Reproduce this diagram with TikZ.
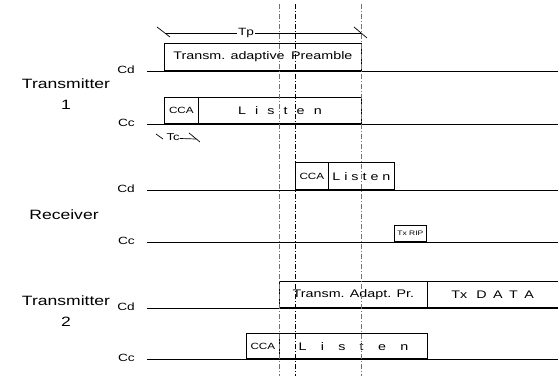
\documentclass[tikz,border=0pt]{standalone}
\usepackage{fontspec}
\setmainfont{Liberation Sans}
\newcommand\hs[1]{\scalebox{1.3}[1]{#1}}
\newcommand\gp[1]{\hspace{#1pt}}
\begin{document}
\begin{tikzpicture}[x=1pt,y=-1pt,
  box/.style={draw, line width=0.8pt, inner sep=0pt, anchor=south west, font=\fontsize{11}{12}\selectfont},
  small/.style={font=\fontsize{9}{10}\selectfont},
  tiny/.style={font=\fontsize{6.5}{7}\selectfont},
  base/.style={line width=0.9pt},
  dd/.style={line width=0.8pt, dash pattern=on 5pt off 2pt on 1pt off 2pt},
  ddg/.style={dd, draw=black!55},
  lbl/.style={font=\fontsize{10.5}{11}\selectfont, anchor=east, inner sep=0pt},
  big/.style={font=\fontsize{13.5}{21}\selectfont, align=center, inner sep=0pt},
  tick/.style={line width=0.7pt}]
\useasboundingbox (0,0) rectangle (558,379);
% baselines
\foreach \n/\y in {a/71,b/124,c/190,d/242,e/308,f/359}{
  \coordinate (\n L) at (147,\y);
  \coordinate (\n R) at (558,\y);
  \draw[base] (\n L) -- (\n R);
}
% channel labels
\node[lbl] (cd1) at (135,70) {\hs{Cd}};
\node[lbl] (cc1) at (135,123) {\hs{Cc}};
\node[lbl] (cd2) at (135,189) {\hs{Cd}};
\node[lbl] (cc2) at (135,241) {\hs{Cc}};
\node[lbl] (cd3) at (135,307) {\hs{Cd}};
\node[lbl] (cc3) at (135,358) {\hs{Cc}};
% station labels
\node[big] (t1) at (66,94) {\hs{Transmitter}\\\hs{1}};
\node[big] (rx) at (64,215) {\hs{Receiver}};
\node[big] (t2) at (66,311) {\hs{Transmitter}\\\hs{2}};
% Transmitter 1
\node[box, minimum width=197pt, minimum height=27pt] (pre1) at (164,71) {\hs{Transm. adaptive\gp{2} Preamble}};
\node[box, small, minimum width=34pt, minimum height=26pt] (cca1) at (164,124) {\hs{CCA}};
\node[box, minimum width=163pt, minimum height=26pt] (lis1) at (198,124) {\hs{L\gp{7}i\gp{7}s\gp{7}t\gp{7}e\gp{7}n}};
% Receiver
\node[box, small, minimum width=33pt, minimum height=27pt] (cca2) at (295,190) {\hs{CCA}};
\node[box, minimum width=66pt, minimum height=27pt] (lis2) at (328,190) {\hs{L i s t e n}};
\node[box, tiny, minimum width=32pt, minimum height=16pt] (rip) at (394,242) {\hs{Tx RIP}};
% Transmitter 2
\node[box, minimum width=148pt, minimum height=26pt] (pre2) at (279,308) {\hs{Transm. Adapt. Pr.}};
\node[box, minimum width=130.6pt, minimum height=26pt] (data) at (427,308) {\hs{Tx\gp{7}D\gp{5}A\gp{5}T\gp{5}A}};
\node[box, small, minimum width=33pt, minimum height=25pt] (cca3) at (246,359) {\hs{CCA}};
\node[box, minimum width=148pt, minimum height=25pt] (lis3) at (279,359) {\hs{L\gp{11}i\gp{11}s\gp{11}t\gp{11}e\gp{11}n}};
% Tp dimension
\coordinate (tpL) at (165,33);
\coordinate (tpR) at (361,33);
\draw[tick] (tpL) -- (tpR);
\node[fill=white, inner xsep=1.5pt, inner ysep=0pt, font=\fontsize{10.5}{11}\selectfont] (tp) at (246,33) {\hs{Tp}};
\draw[tick] (157,27) -- (170,37);
\draw[tick] (354,27) -- (367,38);
% Tc dimension
\node[inner sep=0pt, font=\fontsize{10}{11}\selectfont] (tc) at (173,137) {\hs{Tc}};
\draw[tick] (156,134) -- (163,139);
\coordinate (tcR) at (196,139);
\draw[tick] (tc.east) ++(0,1.5) -- (tcR);
\draw[tick] (189,133) -- (200,142);
% vertical time markers
\coordinate (v1t) at (279,4); \coordinate (v1b) at (279,376);
\coordinate (v2t) at (295,4); \coordinate (v2b) at (295,376);
\coordinate (v3t) at (361,4); \coordinate (v3b) at (361,376);
\draw[ddg] (v1t) -- (v1b);
\draw[dd] (v2t) -- (v2b);
\draw[ddg] (v3t) -- (v3b);
\end{tikzpicture}
\end{document}
